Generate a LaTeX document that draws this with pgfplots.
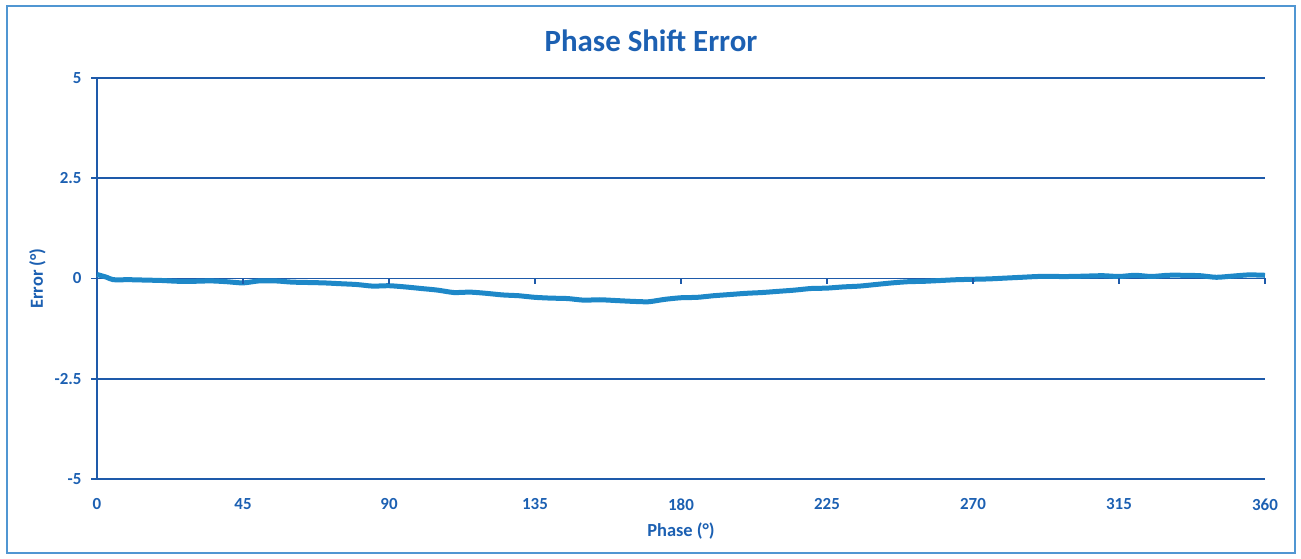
\documentclass[border=0pt]{standalone}
\usepackage{pgfplots}
\pgfplotsset{compat=1.18}
\usepackage{fontspec}
\setmainfont{Carlito}
\definecolor{txtblue}{RGB}{28,96,178}
\definecolor{gridblue}{RGB}{30,90,170}
\definecolor{lineblue}{RGB}{30,136,200}
\definecolor{frameblue}{RGB}{80,150,210}
\begin{document}
\begin{tikzpicture}[x=1bp,y=1bp]
\path[use as bounding box] (0,0) rectangle (1301,559);
\draw[frameblue, line width=2bp] (7,6) rectangle (1295,553);
\node[font=\fontsize{31}{36}\selectfont\bfseries, text=txtblue] at (651,518) {Phase Shift Error};
\begin{axis}[
  at={(97bp,80bp)}, anchor=south west,
  scale only axis, width=1168bp, height=401bp,
  xmin=0, xmax=360, ymin=-5, ymax=5,
  xtick={0,45,...,360}, ytick={-5,-2.5,0,2.5,5},
  yticklabels={-5,-2.5,0,2.5,5},
  axis x line*=bottom, axis y line*=left,
  axis line style={gridblue, line width=1.6bp},
  ymajorgrids, grid style={gridblue, line width=1.6bp},
  tick align=outside,
  ytick style={gridblue, line width=1.6bp},
  major tick length=6bp,
  xtick style={draw=none},
  tick label style={font=\fontsize{17}{20}\selectfont\bfseries, text=txtblue},
  /pgf/number format/assume math mode=true,
  xticklabel style={yshift=-10bp},
  yticklabel style={xshift=-6bp},
  xlabel={Phase (°)}, ylabel={Error (°)},
  label style={font=\fontsize{18.5}{22}\selectfont\bfseries, text=txtblue},
  xlabel style={yshift=-6bp},
  ylabel style={yshift=2bp},
  clip=false,
]
\addplot[lineblue, line width=5bp, smooth, tension=0.4] coordinates {
(0,0.10) (3,0.03) (5,-0.03) (10,-0.03) (15,-0.04) (20,-0.05) (25,-0.07) (30,-0.07)
(35,-0.06) (40,-0.08) (45,-0.11) (50,-0.06) (55,-0.06) (60,-0.09) (65,-0.10)
(70,-0.11) (75,-0.13) (80,-0.15) (85,-0.19) (90,-0.18) (95,-0.21) (100,-0.25)
(105,-0.29) (110,-0.35) (115,-0.34) (120,-0.37) (125,-0.41) (130,-0.43) (135,-0.47)
(140,-0.49) (145,-0.50) (150,-0.54) (155,-0.53) (160,-0.55) (165,-0.57) (170,-0.58)
(175,-0.52) (180,-0.48) (185,-0.47) (190,-0.43) (195,-0.40) (200,-0.37) (205,-0.35)
(210,-0.32) (215,-0.29) (220,-0.25) (225,-0.24) (230,-0.21) (235,-0.19) (240,-0.15)
(245,-0.11) (250,-0.08) (255,-0.07) (260,-0.05) (265,-0.03) (270,-0.02) (275,-0.01)
(280,0.01) (285,0.03) (290,0.05) (295,0.05) (300,0.05) (305,0.06) (310,0.07)
(315,0.05) (320,0.08) (325,0.05) (330,0.08) (335,0.08) (340,0.07) (345,0.03)
(350,0.06) (355,0.09) (360,0.08)
};
\pgfplotsinvokeforeach{45,90,135,180,225,270,315,360}{
  \draw[gridblue, line width=1.6bp] (axis cs:#1,0) -- ([yshift=-6bp]axis cs:#1,0);
}
\end{axis}
\end{tikzpicture}
\end{document}
